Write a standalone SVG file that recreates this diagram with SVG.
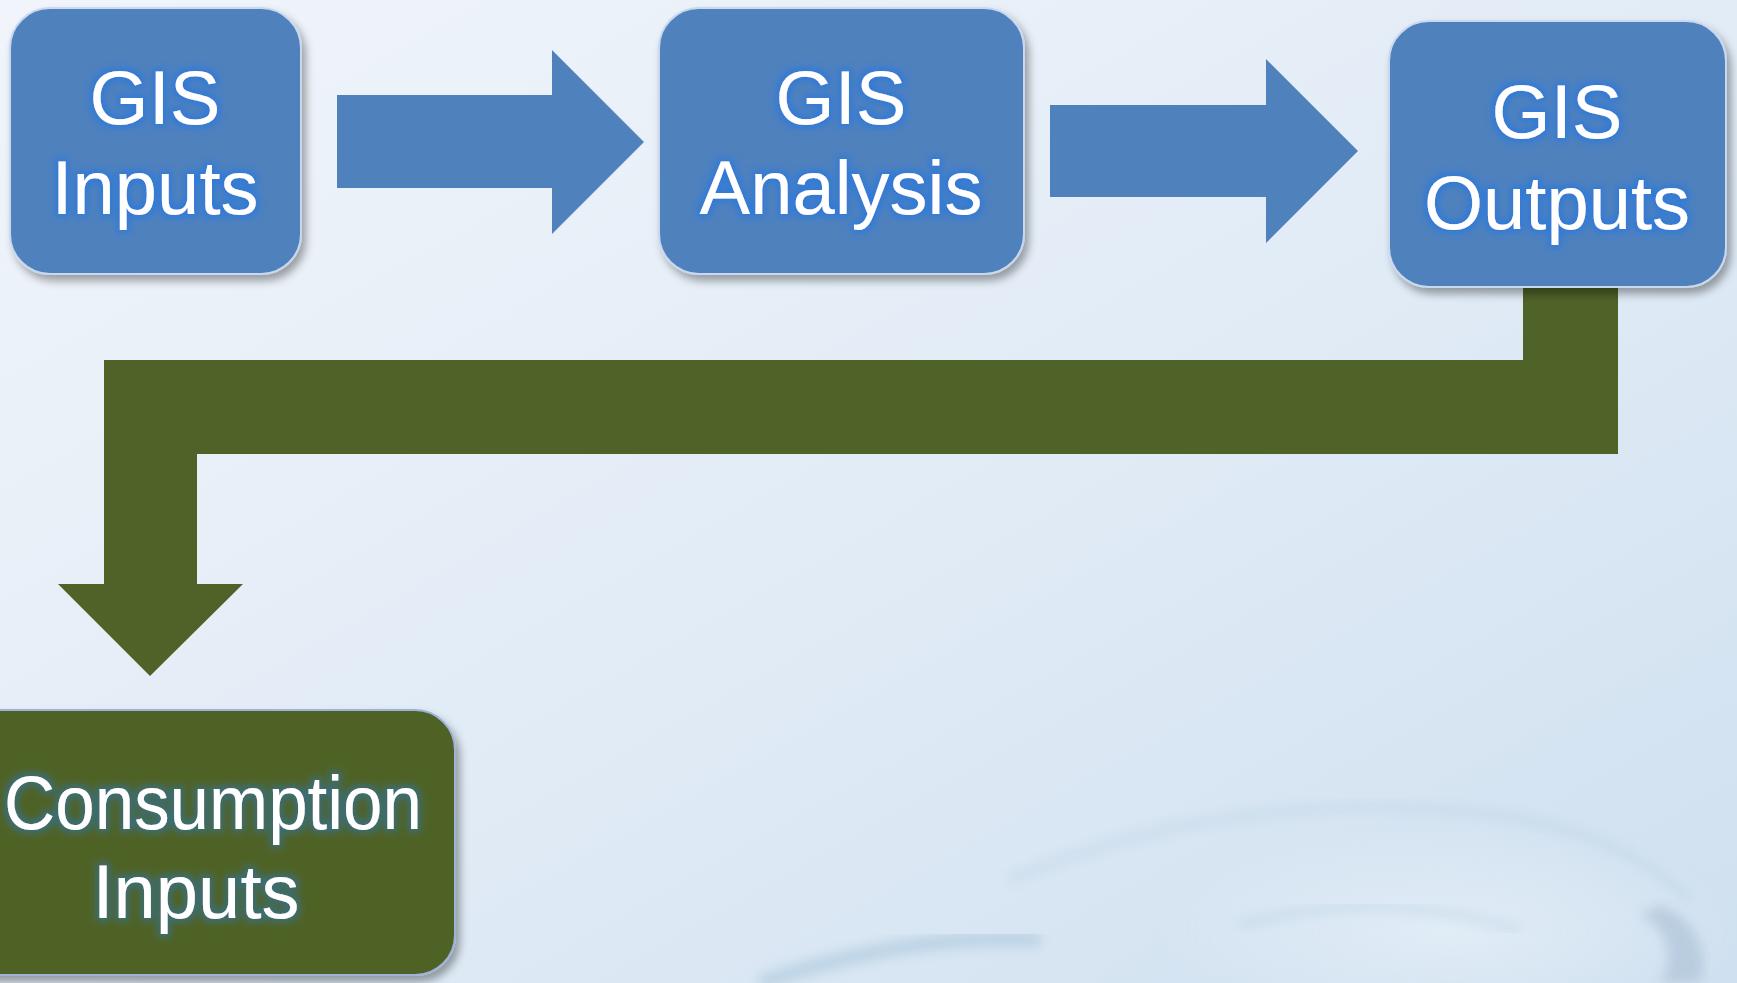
<svg xmlns="http://www.w3.org/2000/svg" width="1737" height="983" viewBox="0 0 1737 983">
<defs>
<linearGradient id="bg" x1="0" y1="0" x2="1" y2="1">
<stop offset="0" stop-color="#f1f5fb"/>
<stop offset="0.5" stop-color="#e2ecf6"/>
<stop offset="1" stop-color="#cfe0f0"/>
</linearGradient>
<radialGradient id="splash" cx="0.5" cy="0.5" r="0.5">
<stop offset="0" stop-color="#e6f0f8" stop-opacity="0.9"/>
<stop offset="1" stop-color="#e6f0f8" stop-opacity="0"/>
</radialGradient>
<filter id="shadow" x="-10%" y="-10%" width="125%" height="130%">
<feGaussianBlur in="SourceAlpha" stdDeviation="4"/>
<feOffset dx="4" dy="6" result="o"/>
<feFlood flood-color="#000" flood-opacity="0.35"/>
<feComposite in2="o" operator="in"/>
<feMerge><feMergeNode/><feMergeNode in="SourceGraphic"/></feMerge>
</filter>
<filter id="glowBlue" x="-20%" y="-20%" width="140%" height="140%">
<feMorphology in="SourceAlpha" operator="dilate" radius="2.5" result="d"/>
<feGaussianBlur in="d" stdDeviation="3.5" result="b"/>
<feFlood flood-color="#2f7ad8" flood-opacity="1"/>
<feComposite in2="b" operator="in"/>
<feMerge><feMergeNode/><feMergeNode in="SourceGraphic"/></feMerge>
</filter>
<filter id="glowTeal" x="-20%" y="-20%" width="140%" height="140%">
<feMorphology in="SourceAlpha" operator="dilate" radius="2.5" result="d"/>
<feGaussianBlur in="d" stdDeviation="3.5" result="b"/>
<feFlood flood-color="#3a6e7a" flood-opacity="1"/>
<feComposite in2="b" operator="in"/>
<feMerge><feMergeNode/><feMergeNode in="SourceGraphic"/></feMerge>
</filter>
<filter id="soft"><feGaussianBlur stdDeviation="6"/></filter>
</defs>
<style>
.blue{fill:#4f81bd;stroke:#c9d8ee;stroke-width:2}
.green{fill:#4f6228;stroke:#9fb3d8;stroke-width:2}
.arrowB{fill:#4f81bd}
.arrowG{fill:#4f6228}
.t{font-family:"Liberation Sans",Arial,sans-serif;font-size:76px;fill:#ffffff;text-anchor:middle}
.tb{filter:url(#glowBlue)}
.tg{filter:url(#glowTeal)}
</style>
<rect x="0" y="0" width="1737" height="983" fill="url(#bg)"/>
<g id="background-splash" opacity="0.8">
<ellipse cx="1450" cy="930" rx="300" ry="110" fill="url(#splash)"/>
<path d="M1010 880 C1150 820 1300 800 1450 810 C1560 818 1640 850 1690 900" fill="none" stroke="#a9c7dc" stroke-width="5" opacity="0.6" filter="url(#soft)"/>
<path d="M760 983 C860 950 950 935 1040 940" fill="none" stroke="#8fb6cf" stroke-width="14" opacity="0.5" filter="url(#soft)"/>
<path d="M1240 925 C1330 900 1420 900 1520 930" fill="none" stroke="#a8c3d8" stroke-width="6" opacity="0.5" filter="url(#soft)"/>
<path d="M1660 905 C1700 920 1710 960 1700 983 L1660 983 C1675 960 1670 930 1640 915 Z" fill="#9fb6cc" opacity="0.6" filter="url(#soft)"/>
</g>
<g id="connectors">
<polygon class="arrowB" points="337,95 552,95 552,50 644,142 552,234 552,188 337,188"/>
<polygon class="arrowB" points="1050,105 1266,105 1266,59 1358,151 1266,243 1266,197 1050,197"/>
<polygon class="arrowG" points="1523,288 1618,288 1618,454 197,454 197,584 243,584 150,676 58,584 104,584 104,360 1523,360"/>
</g>
<g id="node-gis-inputs">
<rect class="blue" x="10" y="8" width="291" height="266" rx="40" filter="url(#shadow)"/>
<g class="tb"><text class="t" x="155" y="124">GIS</text><text class="t" x="155" y="214">Inputs</text></g>
</g>
<g id="node-gis-analysis">
<rect class="blue" x="659" y="8" width="365" height="266" rx="40" filter="url(#shadow)"/>
<g class="tb"><text class="t" x="841" y="124">GIS</text><text class="t" x="841" y="214">Analysis</text></g>
</g>
<g id="node-gis-outputs">
<rect class="blue" x="1389" y="21" width="337" height="266" rx="40" filter="url(#shadow)"/>
<g class="tb"><text class="t" x="1557" y="138">GIS</text><text class="t" x="1557" y="229">Outputs</text></g>
</g>
<g id="node-consumption-inputs">
<rect class="green" x="-60" y="710" width="515" height="265" rx="40" filter="url(#shadow)"/>
<g class="tg"><text class="t" x="213" y="829" textLength="418" lengthAdjust="spacingAndGlyphs">Consumption</text><text class="t" x="196" y="918">Inputs</text></g>
</g>
</svg>
